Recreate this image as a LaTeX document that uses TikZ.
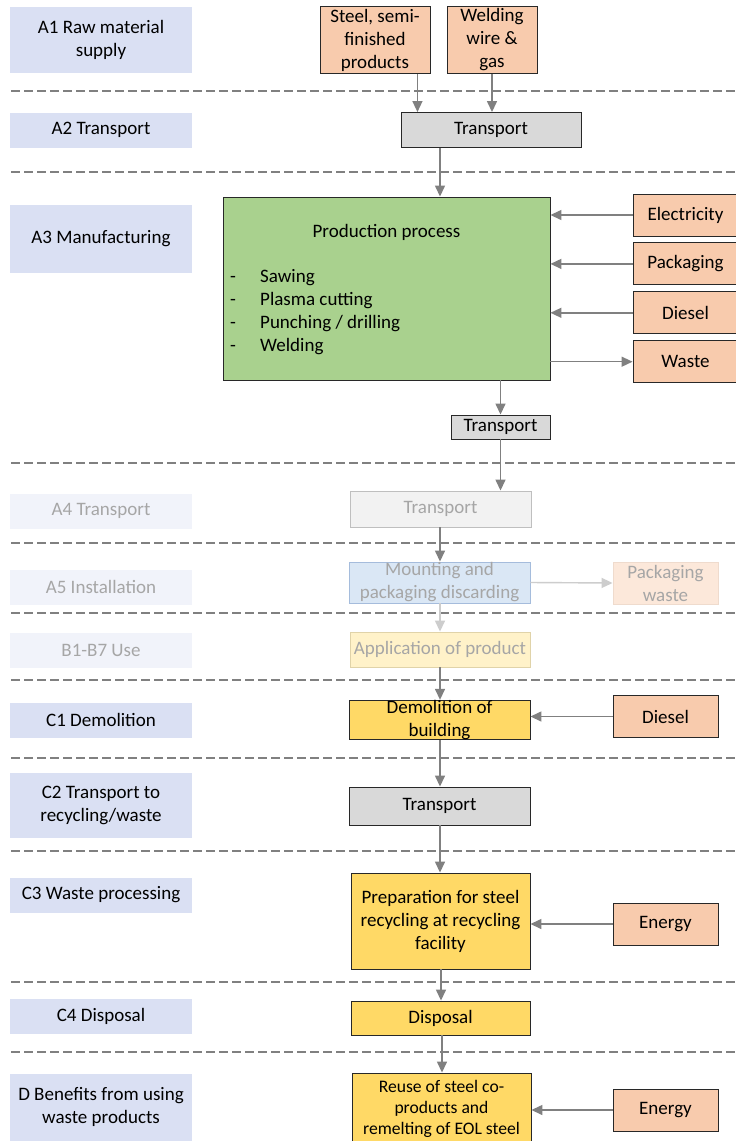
\documentclass[tikz,border=0pt]{standalone}
\usepackage{fontspec}
\setmainfont{Carlito}
\usepackage{tikz}
\usetikzlibrary{arrows.meta, positioning, calc}
\usepackage{xcolor}
\definecolor{stagebg}{RGB}{218,224,243}
\definecolor{stagefade}{RGB}{241,243,250}
\definecolor{fadetext}{RGB}{166,166,166}
\definecolor{boxline}{RGB}{40,40,40}
\definecolor{inputbg}{RGB}{248,203,173}
\definecolor{transbg}{RGB}{217,217,217}
\definecolor{prodbg}{RGB}{169,209,142}
\definecolor{endbg}{RGB}{255,217,102}
\definecolor{mountbg}{RGB}{218,231,245}
\definecolor{mountline}{RGB}{165,188,220}
\definecolor{arrowgray}{RGB}{128,128,128}
\definecolor{lightarrow}{RGB}{205,205,205}
\definecolor{sepgray}{RGB}{128,128,128}
\tikzset{
  % life cycle stage labels (left column)
  stagenode/.style={
    rectangle, fill=stagebg, draw=none,
    minimum width=182pt, minimum height=35pt,
    align=center, inner sep=0pt
  },
  fadestage/.style={
    stagenode, fill=stagefade, text=fadetext
  },
  % process boxes
  boxbase/.style={
    rectangle, draw=boxline, line width=0.9pt,
    align=center, inner sep=0pt
  },
  inputnode/.style={
    boxbase, fill=inputbg,
    minimum width=105pt, minimum height=42pt
  },
  transnode/.style={
    boxbase, fill=transbg,
    minimum width=181pt, minimum height=37pt
  },
  endnode/.style={
    boxbase, fill=endbg,
    minimum width=180pt, minimum height=37pt
  },
  fadenode/.style={
    boxbase, text=fadetext,
    minimum width=181pt, minimum height=36pt
  },
  arrowstyle/.style={
    -{Triangle[length=11pt,width=10pt]}, line width=1.4pt, draw=arrowgray
  },
  fadearrow/.style={
    arrowstyle, draw=lightarrow
  },
  sepline/.style={
    draw=sepgray, line width=1.6pt, dash pattern=on 9pt off 4pt
  }
}

\begin{document}
\begin{tikzpicture}[x=1pt, y=-1pt, font=\fontsize{19}{23}\selectfont]

  \useasboundingbox (0,0) rectangle (736,1141);
  \fill[white] (0,0) rectangle (736,1141);

  % --- stage separators ---
  \foreach \y in {91,172,463,543,613,680,758,851,982,1052}
    \draw[sepline] (11,\y) -- (736,\y);

  % --- Stage labels ---
  \node[stagenode, minimum height=66pt] (labA1) at (101,40) {A1 Raw material\\supply};
  \node[stagenode] (labA2) at (101,130) {A2 Transport};
  \node[stagenode, minimum height=68pt] (labA3) at (101,239) {A3 Manufacturing};
  \node[fadestage] (labA4) at (101,511) {A4 Transport};
  \node[fadestage] (labA5) at (101,587) {A5 Installation};
  \node[fadestage] (labB) at (101,650) {B1-B7 Use};
  \node[stagenode] (labC1) at (101,720) {C1 Demolition};
  \node[stagenode, minimum height=65pt] (labC2) at (101,805) {C2 Transport to\\recycling/waste};
  \node[stagenode] (labC3) at (101,895) {C3 Waste processing};
  \node[stagenode] (labC4) at (101,1016) {C4 Disposal};
  \node[stagenode, minimum height=67pt] (labD) at (101,1107) {D Benefits from using\\waste products};

  % main flow axis
  \coordinate (axis) at (440,0);

  % --- A1 / A2 ---
  \node[inputnode, minimum width=110pt, minimum height=67pt] (steel) at (375,40) {Steel, semi-\\finished\\products};
  \node[inputnode, minimum width=90pt, minimum height=67pt] (wire) at (492,40) {Welding\\wire \&\\gas};
  \node[transnode, minimum width=180pt, minimum height=35pt] (trA2) at (491,130) {Transport};

  \draw[arrowstyle] ([xshift=-13pt]steel.south east) -- ([xshift=-13pt]steel.south east |- trA2.north);
  \draw[arrowstyle] (wire.south) -- (wire.south |- trA2.north);

  % --- A3 Manufacturing ---
  \node[boxbase, fill=prodbg, minimum width=327pt, minimum height=183pt] (prod) at (386.5,288.5) {};
  \node (prodtitle) at (386.5,232) {Production process};
  \node[anchor=west, inner sep=0pt] (prodsteps) at (230,312.5) {%
    \begin{tabular}{@{}p{30pt}@{}l@{}}
      - & Sawing\\
      - & Plasma cutting\\
      - & Punching / drilling\\
      - & Welding
    \end{tabular}};

  \node[inputnode, minimum width=105pt] (elec) at (685.5,215) {Electricity};
  \node[inputnode, minimum width=105pt, below=6pt of elec] (pack) {Packaging};
  \node[inputnode, minimum width=105pt, below=6pt of pack] (diesA) {Diesel};
  \node[inputnode, minimum width=105pt, below=6pt of diesA] (waste) {Waste};

  \node[transnode, minimum width=99pt, minimum height=24pt] (trA3) at (500.5,427) {Transport};

  \draw[arrowstyle] (trA2.south -| axis) -- (prod.north -| axis);
  \draw[arrowstyle] (elec.west) -- (elec.west -| prod.east);
  \draw[arrowstyle] (pack.west) -- (pack.west -| prod.east);
  \draw[arrowstyle] (diesA.west) -- (diesA.west -| prod.east);
  \draw[arrowstyle] (prod.east |- waste.west) -- (waste.west);
  \draw[arrowstyle] (prod.south -| trA3.north) -- (trA3.north);

  % --- A4 / A5 / B (faded) ---
  \node[fadenode, fill=black!5, draw=black!25] (trA4) at (440.5,509) {Transport};
  \node[fadenode, fill=mountbg, draw=mountline, minimum height=41pt] (mount) at (439.5,582.5) {Mounting and\\packaging discarding};
  \node[fadenode, fill=inputbg!45, draw=inputbg!90!black!50, minimum width=105pt, minimum height=42pt] (pwaste) at (665.5,583) {Packaging\\waste};
  \node[fadenode, fill=endbg!35, draw=endbg!60!gray!60, minimum width=180pt, minimum height=35pt] (appl) at (440,649.5) {Application of product};

  \draw[arrowstyle] (trA3.south) -- (trA3.south |- trA4.north);
  \draw[arrowstyle] (trA4.south -| axis) -- (mount.north -| axis);
  \draw[fadearrow] (mount.east) -- (pwaste.west);
  \draw[fadearrow] (mount.south -| axis) -- (appl.north -| axis);

  % --- C1 - C4 ---
  \node[endnode, minimum width=181pt, minimum height=38pt] (demo) at (439.5,720) {Demolition of\\building};
  \node[inputnode] (diesC) at (665.5,716.5) {Diesel};
  \node[transnode, minimum height=38pt] (trC2) at (439.5,806) {Transport};
  \node[endnode, minimum width=179pt, minimum height=96pt] (prep) at (440.5,921) {Preparation for steel\\recycling at recycling\\facility};
  \node[inputnode] (enC3) at (665.5,924) {Energy};
  \node[endnode, minimum width=179pt, minimum height=34pt] (disp) at (440.5,1018) {Disposal};

  \draw[arrowstyle] (appl.south -| axis) -- (demo.north -| axis);
  \draw[arrowstyle] (diesC.west) -- (diesC.west -| demo.east);
  \draw[arrowstyle] (demo.south -| axis) -- (trC2.north -| axis);
  \draw[arrowstyle] (trC2.south -| axis) -- (prep.north -| axis);
  \draw[arrowstyle] (enC3.west) -- (enC3.west -| prep.east);
  \draw[arrowstyle] ([xshift=1pt]prep.south -| axis) -- ([xshift=1pt]disp.north -| axis);

  % --- D ---
  \node[endnode, minimum width=179pt, minimum height=72pt, font=\fontsize{17.6}{21.3}\selectfont] (reuse) at (441.5,1109) {Reuse of steel co-\\products and\\remelting of EOL steel};
  \node[inputnode] (enD) at (665.5,1110) {Energy};

  \draw[arrowstyle] ([xshift=2pt]disp.south -| axis) -- ([xshift=2pt]reuse.north -| axis);
  \draw[arrowstyle] (enD.west) -- (enD.west -| reuse.east);

\end{tikzpicture}
\end{document}
